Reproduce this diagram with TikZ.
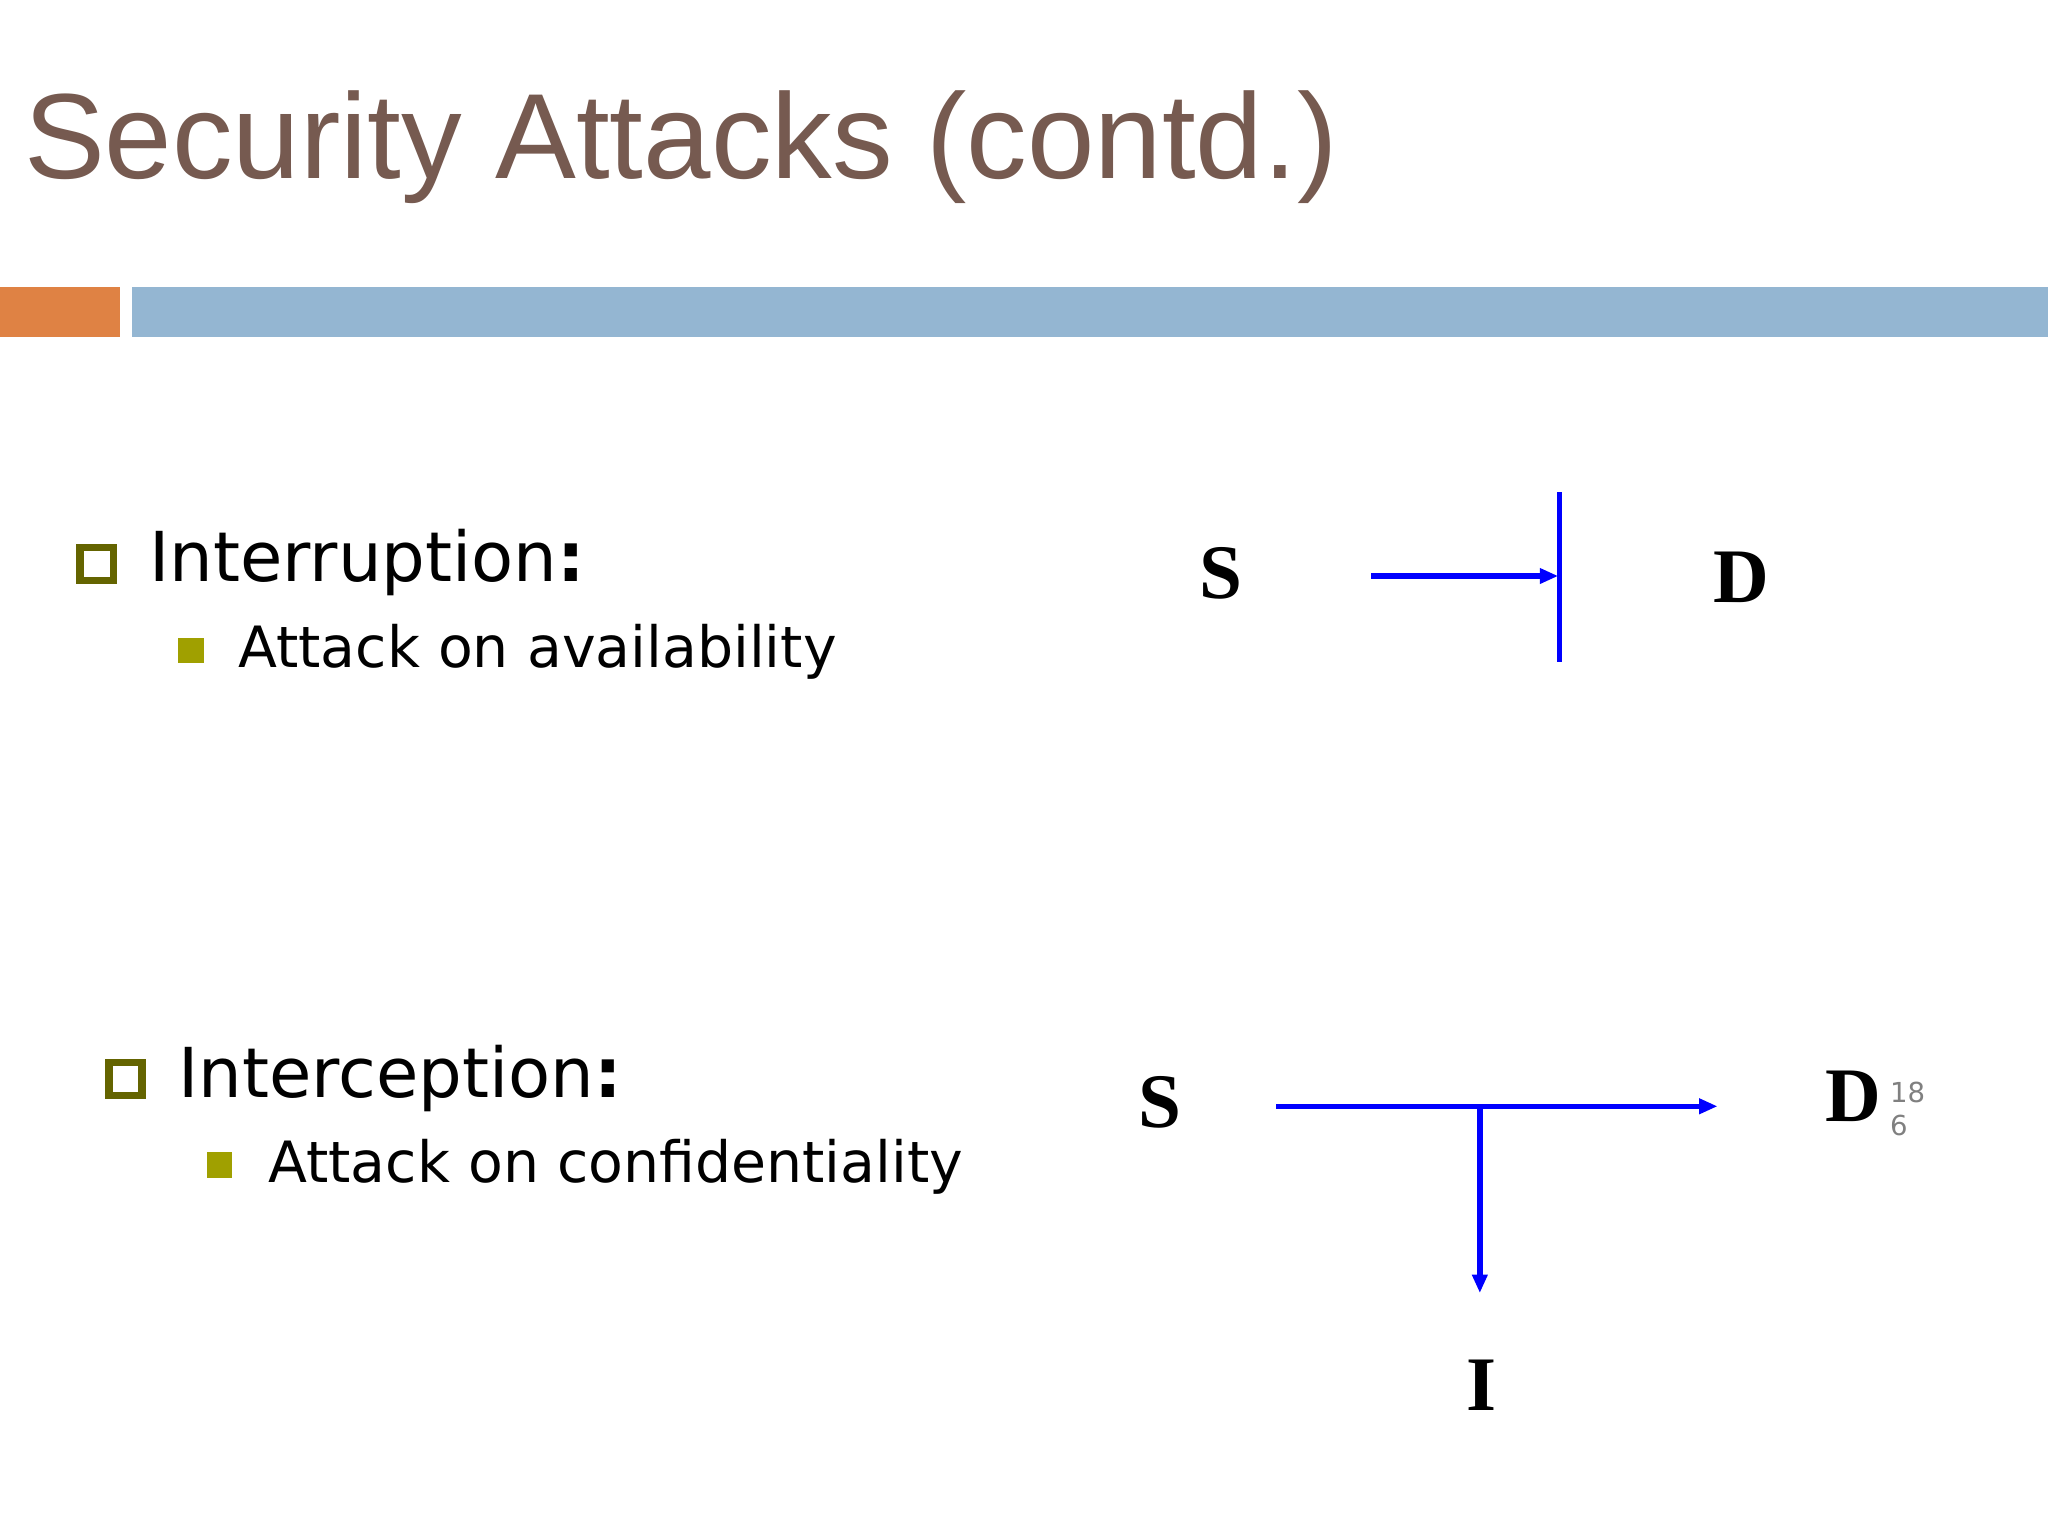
\documentclass[tikz,border=0pt]{standalone}
\usepackage{fontspec}
\setmainfont{Liberation Serif}
\newfontfamily\titlefont{Liberation Sans}
\newfontfamily\bodyfont{DejaVu Sans}
\usetikzlibrary{arrows.meta}
\definecolor{titlec}{HTML}{765A50}
\definecolor{orangec}{HTML}{DF8244}
\definecolor{bluec}{HTML}{94B6D2}
\definecolor{olivec}{HTML}{646400}
\definecolor{bulc}{HTML}{A0A000}
\definecolor{linec}{HTML}{0000FF}
\begin{document}
\begin{tikzpicture}[x=0.5mm,y=-0.5mm,
  lvlone/.style={anchor=base west,font=\bodyfont\fontsize{75}{86}\selectfont},
  lvltwo/.style={anchor=base west,font=\bodyfont\fontsize{62}{72}\selectfont},
  letter/.style={font=\bfseries\fontsize{84}{96}\selectfont,anchor=base},
  conn/.style={draw=linec,line width=6pt,-{Triangle[length=20pt,width=16pt]}},
  bar/.style={draw=linec,line width=6pt},
  hollow/.style={draw=olivec,line width=8pt,minimum size=36pt,inner sep=0pt},
  solid/.style={fill=bulc,minimum size=28pt,inner sep=0pt}]
\fill[white] (0,0) rectangle (1568,1176);
\node[anchor=base west,text=titlec,font=\titlefont\fontsize{132}{142}\selectfont] (title) at (16,137) {Security Attacks (contd.)};
\fill[orangec] (0,220) rectangle (92,258);
\fill[bluec] (101,220) rectangle (1568,258);
% interruption
\node[hollow] (b1) at (74,432) {};
\node[lvlone] (t1) at (112,445) {Interruption\textbf{:}};
\node[solid] (b2) at (146,498) {};
\node[lvltwo] (t2) at (180,511) {Attack on availability};
\node[letter] (s1) at (935,458) {S};
\node[letter] (d1) at (1333,461) {D};
\coordinate (a1) at (1050,441);
\coordinate (a2) at (1193,441);
\coordinate (c1) at (1194,377);
\coordinate (c2) at (1194,507);
\draw[conn] (a1) -- (a2);
\draw[bar] (c1) -- (c2);
% interception
\node[hollow] (b3) at (96,826) {};
\node[lvlone] (t3) at (134,840) {Interception\textbf{:}};
\node[solid] (b4) at (168,892) {};
\node[lvltwo] (t4) at (203,905) {Attack on confidentiality};
\node[letter] (s2) at (888,863) {S};
\node[letter] (d2) at (1419,859) {D};
\node[letter] (i2) at (1134,1080) {I};
\coordinate (e1) at (977,847);
\coordinate (e2) at (1315,847);
\coordinate (j) at (1133,847);
\coordinate (k) at (1133,990);
\draw[conn] (e1) -- (e2);
\draw[conn] (j) -- (k);
\node[anchor=north west,text=gray,align=left,font=\bodyfont\fontsize{30}{36}\selectfont,inner sep=0pt] (pg) at (1447,828) {18\\6};
\end{tikzpicture}
\end{document}
